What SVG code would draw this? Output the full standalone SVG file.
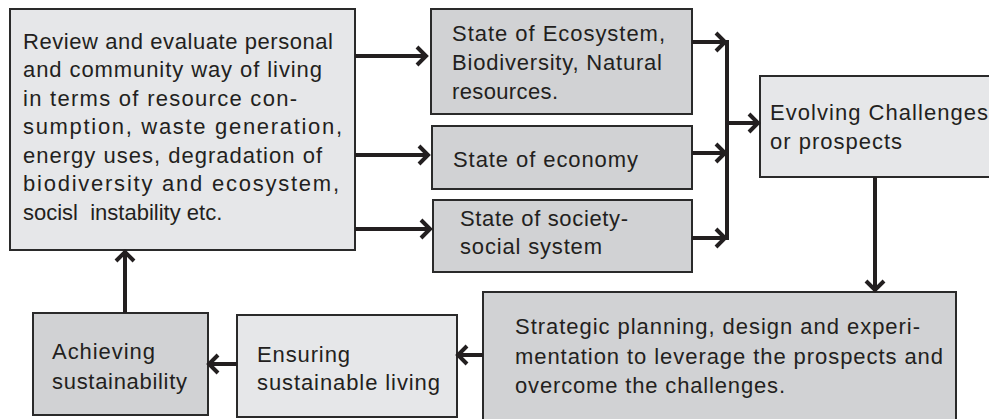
<svg xmlns="http://www.w3.org/2000/svg" width="989" height="419" viewBox="0 0 989 419">
<defs>
<style>
.bx{stroke:#2a2a2a;stroke-width:2}
.lt{fill:#e6e7e9}
.dk{fill:#d1d2d4}
.t{font-family:"Liberation Sans",Arial,sans-serif;font-size:22px;fill:#231f20}
.c{stroke:#231f20;stroke-width:4;fill:none;marker-end:url(#ah)}
.bus{stroke:#231f20;stroke-width:4;fill:none}
</style>
<marker id="ah" viewBox="-14 -12 16 24" markerUnits="userSpaceOnUse" markerWidth="16" markerHeight="24" refX="0" refY="0" orient="auto">
<path d="M-10,-9 L-1,0 L-10,9" fill="none" stroke="#231f20" stroke-width="4" stroke-linejoin="miter"/>
</marker>
</defs>
<rect width="989" height="419" fill="#ffffff"/>

<g id="review">
<rect class="bx lt" x="10" y="9" width="345" height="241"/>
<text class="t" x="23" y="49" textLength="310" lengthAdjust="spacing">Review and evaluate personal</text>
<text class="t" x="23" y="77" textLength="299" lengthAdjust="spacing">and community way of living</text>
<text class="t" x="23" y="106" textLength="274" lengthAdjust="spacing">in terms of resource con-</text>
<text class="t" x="23" y="134" textLength="319" lengthAdjust="spacing">sumption, waste generation,</text>
<text class="t" x="23" y="163" textLength="299" lengthAdjust="spacing">energy uses, degradation of</text>
<text class="t" x="23" y="191" textLength="316" lengthAdjust="spacing">biodiversity and ecosystem,</text>
<text class="t" x="23" y="220" xml:space="preserve">socisl  instability etc.</text>
</g>

<g id="ecosystem">
<rect class="bx dk" x="431" y="9" width="261" height="105"/>
<text class="t" x="452" y="41" textLength="213" lengthAdjust="spacing">State of Ecosystem,</text>
<text class="t" x="452" y="70" textLength="210" lengthAdjust="spacing">Biodiversity, Natural</text>
<text class="t" x="452" y="99" textLength="106" lengthAdjust="spacing">resources.</text>
</g>

<g id="economy">
<rect class="bx dk" x="432" y="126" width="260" height="63"/>
<text class="t" x="453" y="167" textLength="185" lengthAdjust="spacing">State of economy</text>
</g>

<g id="society">
<rect class="bx dk" x="433" y="200" width="259" height="72"/>
<text class="t" x="460" y="226" textLength="168" lengthAdjust="spacing">State of society-</text>
<text class="t" x="460" y="254" textLength="142" lengthAdjust="spacing">social system</text>
</g>

<g id="evolving">
<rect class="bx lt" x="760" y="76" width="232" height="101"/>
<text class="t" x="770" y="120" textLength="218" lengthAdjust="spacing">Evolving Challenges</text>
<text class="t" x="770" y="149" textLength="132" lengthAdjust="spacing">or prospects</text>
</g>

<g id="strategic">
<rect class="bx dk" x="483" y="292" width="473" height="132"/>
<text class="t" x="515" y="334" textLength="405" lengthAdjust="spacing">Strategic planning, design and experi-</text>
<text class="t" x="515" y="364" textLength="428" lengthAdjust="spacing">mentation to leverage the prospects and</text>
<text class="t" x="515" y="393" textLength="270" lengthAdjust="spacing">overcome the challenges.</text>
</g>

<g id="ensuring">
<rect class="bx lt" x="237" y="315" width="220" height="102"/>
<text class="t" x="257" y="362" textLength="93" lengthAdjust="spacing">Ensuring</text>
<text class="t" x="257" y="390" textLength="183" lengthAdjust="spacing">sustainable living</text>
</g>

<g id="achieving">
<rect class="bx dk" x="33" y="313" width="175" height="102"/>
<text class="t" x="52" y="359" textLength="103" lengthAdjust="spacing">Achieving</text>
<text class="t" x="52" y="389" textLength="135" lengthAdjust="spacing">sustainability</text>
</g>

<g id="connectors">
<path class="c" d="M355,56 H427"/>
<path class="c" d="M355,155 H429"/>
<path class="c" d="M355,229 H431"/>
<path class="c" d="M692,42 H726"/>
<path class="c" d="M692,153 H726"/>
<path class="c" d="M692,238 H726"/>
<path class="bus" d="M727,40 V240"/>
<path class="c" d="M727,123 H759"/>
<path class="c" d="M875,177 V291"/>
<path class="c" d="M483,355 H457"/>
<path class="c" d="M237,364 H208"/>
<path class="c" d="M125,313 V251"/>
</g>
</svg>
